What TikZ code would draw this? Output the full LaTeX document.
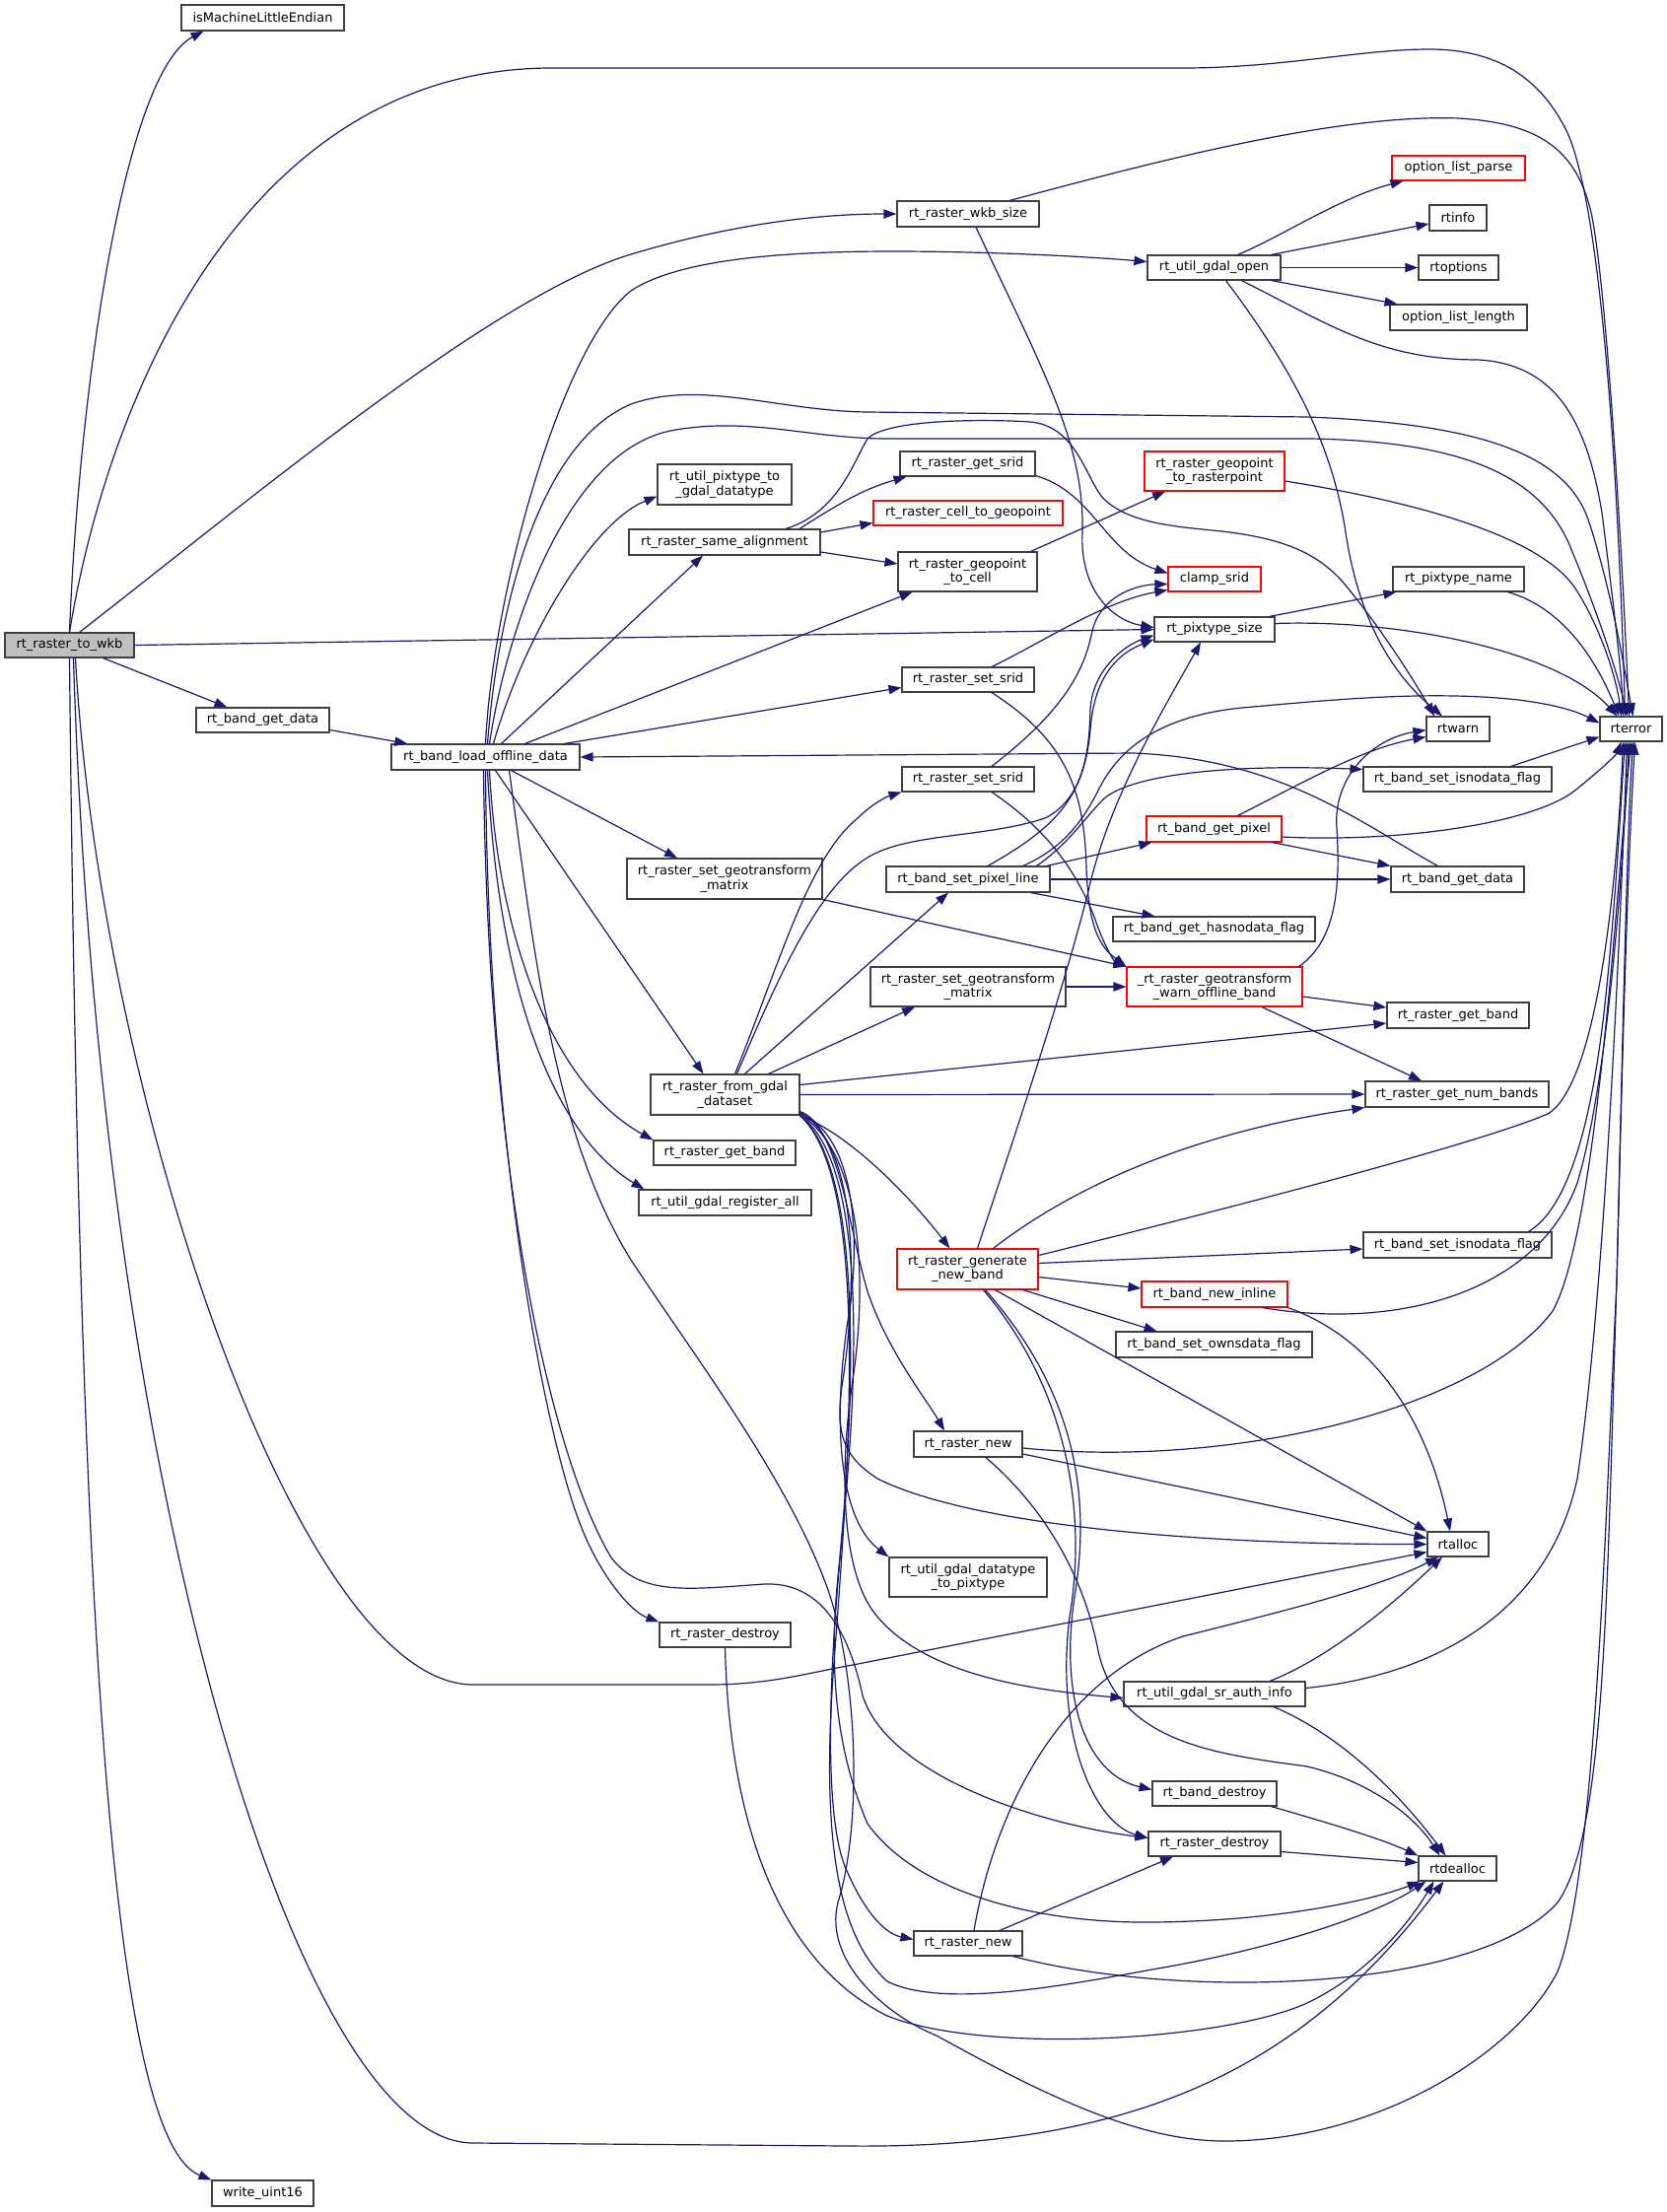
\documentclass[tikz,border=0pt]{standalone}
\usepackage{fontspec}
\setmainfont{DejaVu Sans}
\usetikzlibrary{arrows.meta}
\definecolor{edgec}{HTML}{191970}
\definecolor{nodeb}{HTML}{404040}
\definecolor{rootf}{HTML}{BFBFBF}
\begin{document}
\begin{tikzpicture}[x=0.5pt,y=-0.5pt,
  nb/.style={draw=nodeb,fill=white,line width=0.55pt,inner sep=0pt,text=black,
    font=\fontsize{6.5pt}{7.4pt}\selectfont,align=center},
  rn/.style={draw=red},
  e/.style={draw=edgec,line width=0.6pt,-{Triangle[length=6.5pt,width=4.6pt]}}]
\fill[white] (0,0) rectangle (1691,2244);
\useasboundingbox (0,0) rectangle (1691,2244);

% ---------------- nodes ----------------
\node[nb,fill=rootf,minimum width=65.5pt,minimum height=12.5pt] (root) at (70.5,654.5) {rt\_raster\_to\_wkb};
\node[nb,minimum width=82.5pt,minimum height=13pt] (isML) at (266.5,18) {isMachineLittleEndian};
\node[nb,minimum width=72pt,minimum height=13pt] (wkbsize) at (982,217) {rt\_raster\_wkb\_size};
\node[nb,minimum width=67.5pt,minimum height=12.5pt] (gdalopen) at (1231.5,271.5) {rt\_util\_gdal\_open};
\node[nb,rn,minimum width=67.5pt,minimum height=12.5pt] (olparse) at (1479.5,170.5) {option\_list\_parse};
\node[nb,minimum width=29pt,minimum height=13pt] (rtinfo) at (1479,221) {rtinfo};
\node[nb,minimum width=40.5pt,minimum height=12.5pt] (rtoptions) at (1479.5,271.5) {rtoptions};
\node[nb,minimum width=69.5pt,minimum height=13pt] (ollength) at (1479.5,322) {option\_list\_length};
\node[nb,minimum width=31.5pt,minimum height=12.5pt] (rterror) at (1654.5,739.5) {rterror};
\node[nb,minimum width=68pt,minimum height=20.5pt] (pix2gdal) at (735,491.5) {rt\_util\_pixtype\_to\\\_gdal\_datatype};
\node[nb,minimum width=97pt,minimum height=13pt] (samealign) at (735,550) {rt\_raster\_same\_alignment};
\node[nb,minimum width=68.5pt,minimum height=12.5pt] (getsrid) at (981.5,470.5) {rt\_raster\_get\_srid};
\node[nb,rn,minimum width=96pt,minimum height=12.5pt] (cell2geo) at (982,520.5) {rt\_raster\_cell\_to\_geopoint};
\node[nb,minimum width=70.5pt,minimum height=20pt] (geo2cell) at (981.5,580) {rt\_raster\_geopoint\\\_to\_cell};
\node[nb,rn,minimum width=71pt,minimum height=20pt] (geo2raster) at (1232,478) {rt\_raster\_geopoint\\\_to\_rasterpoint};
\node[nb,rn,minimum width=47pt,minimum height=12.5pt] (clampsrid) at (1232,587.5) {clamp\_srid};
\node[nb,minimum width=61pt,minimum height=12.5pt] (pixsize) at (1232,638.5) {rt\_pixtype\_size};
\node[nb,minimum width=66.5pt,minimum height=12.5pt] (pixname) at (1479.5,587.5) {rt\_pixtype\_name};
\node[nb,minimum width=67pt,minimum height=12.5pt] (setsrid1) at (982,689.5) {rt\_raster\_set\_srid};
\node[nb,minimum width=32pt,minimum height=12.5pt] (rtwarn) at (1479,739.5) {rtwarn};
\node[nb,minimum width=67.5pt,minimum height=12.5pt] (bgetdata1) at (266.5,730.5) {rt\_band\_get\_data};
\node[nb,minimum width=95.5pt,minimum height=13pt] (loadoff) at (492.5,768) {rt\_band\_load\_offline\_data};
\node[nb,minimum width=67pt,minimum height=12.5pt] (setsrid2) at (982,790.5) {rt\_raster\_set\_srid};
\node[nb,minimum width=95.5pt,minimum height=12.5pt] (bisnodata1) at (1478.5,790.5) {rt\_band\_set\_isnodata\_flag};
\node[nb,minimum width=83pt,minimum height=13pt] (setpixline) at (982,892) {rt\_band\_set\_pixel\_line};
\node[nb,rn,minimum width=68.5pt,minimum height=13pt] (bgetpixel) at (1231.5,841) {rt\_band\_get\_pixel};
\node[nb,minimum width=67.5pt,minimum height=13pt] (bgetdata2) at (1478.5,892) {rt\_band\_get\_data};
\node[nb,minimum width=99pt,minimum height=20.5pt] (setgeo1) at (735,891.5) {rt\_raster\_set\_geotransform\\\_matrix};
\node[nb,minimum width=102.5pt,minimum height=12.5pt] (hasnodata) at (1231.5,942.5) {rt\_band\_get\_hasnodata\_flag};
\node[nb,minimum width=99pt,minimum height=20pt] (setgeo2) at (982,1001) {rt\_raster\_set\_geotransform\\\_matrix};
\node[nb,rn,minimum width=89pt,minimum height=20pt] (warnoff) at (1232,1001) {\_rt\_raster\_geotransform\\\_warn\_offline\_band};
\node[nb,minimum width=72pt,minimum height=13pt] (getband2) at (1479,1030) {rt\_raster\_get\_band};
\node[nb,minimum width=75.5pt,minimum height=20.5pt] (fromgdal) at (735.5,1110.5) {rt\_raster\_from\_gdal\\\_dataset};
\node[nb,minimum width=93pt,minimum height=13pt] (numbands) at (1478,1110) {rt\_raster\_get\_num\_bands};
\node[nb,minimum width=72pt,minimum height=12.5pt] (getband1) at (735,1169.5) {rt\_raster\_get\_band};
\node[nb,minimum width=87.5pt,minimum height=13pt] (regall) at (735.5,1220) {rt\_util\_gdal\_register\_all};
\node[nb,rn,minimum width=71.5pt,minimum height=20.5pt] (genband) at (981.5,1287.5) {rt\_raster\_generate\\\_new\_band};
\node[nb,minimum width=95.5pt,minimum height=13pt] (bisnodata2) at (1478.5,1263) {rt\_band\_set\_isnodata\_flag};
\node[nb,rn,minimum width=74pt,minimum height=13pt] (newinline) at (1232,1313) {rt\_band\_new\_inline};
\node[nb,minimum width=99.5pt,minimum height=13pt] (ownsdata) at (1231.5,1364) {rt\_band\_set\_ownsdata\_flag};
\node[nb,minimum width=55pt,minimum height=13pt] (rasternew1) at (982,1465) {rt\_raster\_new};
\node[nb,minimum width=31pt,minimum height=12.5pt] (rtalloc) at (1479,1566.5) {rtalloc};
\node[nb,minimum width=80pt,minimum height=20pt] (dt2pix) at (982,1600) {rt\_util\_gdal\_datatype\\\_to\_pixtype};
\node[nb,minimum width=66.5pt,minimum height=12.5pt] (destroy1) at (735.5,1658.5) {rt\_raster\_destroy};
\node[nb,minimum width=92pt,minimum height=12.5pt] (srauth) at (1232,1718.5) {rt\_util\_gdal\_sr\_auth\_info};
\node[nb,minimum width=63pt,minimum height=12.5pt] (banddestroy) at (1232,1819.5) {rt\_band\_destroy};
\node[nb,minimum width=67pt,minimum height=12.5pt] (destroy2) at (1232,1870.5) {rt\_raster\_destroy};
\node[nb,minimum width=39.5pt,minimum height=12.5pt] (rtdealloc) at (1478.5,1895.5) {rtdealloc};
\node[nb,minimum width=55pt,minimum height=12.5pt] (rasternew2) at (982,1971.5) {rt\_raster\_new};
\node[nb,minimum width=51.5pt,minimum height=13pt] (writeu16) at (266.5,2225) {write\_uint16};

% ---------------- edges ----------------
% rt_raster_to_wkb
\draw[e] (root.north) .. controls (80,400) and (125,75) .. ([xshift=-30pt]isML.south);
\draw[e] (root.north) .. controls (110,400) and (250,69) .. (560,69) -- (1200,69) .. controls (1300,69) and (1380,50) .. (1450,50) .. controls (1520,50) and (1560,80) .. (1585,125) .. controls (1625,190) and (1642,500) .. ([xshift=-3pt]rterror.north);
\draw[e] ([xshift=5pt]root.north) .. controls (250,510) and (500,300) .. (640,258) .. controls (760,222) and (850,217) .. (wkbsize.west);
\draw[e] (root.east) -- (pixsize.west);
\draw[e] ([xshift=17pt]root.south) -- ([xshift=-18pt]bgetdata1.north);
\draw[e] ([xshift=3pt]root.south) .. controls (100,1100) and (300,1709) .. (480,1709) -- (720,1709) .. controls (780,1709) and (820,1697) .. (860,1690) -- ([yshift=-4pt]rtalloc.west);
\draw[e] ([xshift=2pt]root.south) .. controls (100,1500) and (300,2174) .. (480,2174) -- (860,2177) .. controls (1150,2180) and (1320,2100) .. ([xshift=-7pt]rtdealloc.south);
\draw[e] (root.south) .. controls (80,1600) and (110,2170) .. (writeu16.north west);

% rt_raster_wkb_size
\draw[e] ([xshift=21pt]wkbsize.north) .. controls (1150,170) and (1350,115) .. (1480,120) .. controls (1560,125) and (1600,150) .. (1615,220) .. controls (1630,300) and (1645,550) .. ([xshift=-1pt]rterror.north);
\draw[e] ([xshift=4pt]wkbsize.south) .. controls (1060,380) and (1100,450) .. (1098,540) .. controls (1095,600) and (1130,630) .. ([yshift=1pt]pixsize.west);

% rt_util_gdal_open
\draw[e] ([xshift=12pt]gdalopen.north) .. controls (1300,240) and (1360,200) .. ([xshift=-28pt]olparse.south);
\draw[e] ([xshift=-5pt]gdalopen.north east) -- ([yshift=-3pt]rtinfo.west);
\draw[e] (gdalopen.east) -- (rtoptions.west);
\draw[e] ([xshift=-5pt]gdalopen.south east) -- ([xshift=-31pt]ollength.north);
\draw[e] ([xshift=14pt]gdalopen.south) .. controls (1350,330) and (1400,365) .. (1500,365) .. controls (1580,370) and (1610,430) .. (1625,520) .. controls (1635,600) and (1645,680) .. ([xshift=-4pt]rterror.north);
\draw[e] ([xshift=6pt]gdalopen.south) .. controls (1300,360) and (1350,440) .. (1365,540) .. controls (1380,640) and (1420,690) .. ([xshift=-8pt]rtwarn.north);

% rt_band_get_data (left)
\draw[e] ([yshift=-5pt]bgetdata1.east) -- ([xshift=8.5pt]loadoff.north west);

% rt_band_load_offline_data
\draw[e] (loadoff.north) .. controls (500,600) and (570,350) .. (640,295) .. controls (690,262) and (800,255) .. (906,255) .. controls (1000,255) and (1100,260) .. ([yshift=3pt]gdalopen.west);
\draw[e] ([xshift=1pt]loadoff.north) .. controls (505,620) and (545,450) .. (640,410) .. controls (710,385) and (790,417) .. (880,418) -- (1327,423) .. controls (1500,430) and (1590,460) .. (1612,530) .. controls (1635,600) and (1648,680) .. ([xshift=1pt]rterror.north);
\draw[e] ([xshift=2pt]loadoff.north) .. controls (512,650) and (570,460) .. (680,437) .. controls (760,422) and (820,445) .. (900,445) -- (1330,445) .. controls (1480,448) and (1565,480) .. (1595,560) .. controls (1620,620) and (1640,680) .. ([xshift=-2pt]rterror.north);
\draw[e] ([xshift=4pt]loadoff.north) .. controls (530,650) and (600,530) .. ([yshift=-6pt]pix2gdal.west);
\draw[e] ([xshift=8pt]loadoff.north) -- ([xshift=-11pt]samealign.south);
\draw[e] ([xshift=20pt]loadoff.north) -- ([xshift=-28pt]geo2cell.south);
\draw[e] ([xshift=-8pt]loadoff.north east) -- ([yshift=-4pt]setsrid1.west);
\draw[e] ([xshift=13pt]loadoff.south) -- ([xshift=-24pt]setgeo1.north);
\draw[e] ([xshift=5pt]loadoff.south) -- ([xshift=-11pt]fromgdal.north);
\draw[e] ([xshift=2pt]loadoff.south) .. controls (505,950) and (560,1100) .. (getband1.north west);
\draw[e] ([xshift=1pt]loadoff.south) .. controls (505,1000) and (560,1150) .. ([xshift=3pt]regall.north west);
\draw[e] (loadoff.south) .. controls (495,1150) and (550,1450) .. (590,1550) .. controls (610,1600) and (640,1635) .. (destroy1.north west);
\draw[e] ([xshift=-1pt]loadoff.south) .. controls (495,1200) and (560,1480) .. (620,1580) .. controls (650,1620) and (700,1612) .. (776,1607) .. controls (830,1605) and (860,1650) .. (875,1720) .. controls (900,1800) and (1050,1850) .. ([yshift=3pt]destroy2.west);
\draw[e] ([xshift=12pt]loadoff.south) .. controls (540,950) and (560,1150) .. (640,1278) .. controls (700,1370) and (800,1500) .. (840,1613) .. controls (870,1700) and (875,1850) .. (850,1930) .. controls (835,1990) and (900,2045) .. (950,2065) .. controls (1050,2120) and (1150,2172) .. (1242,2172) .. controls (1400,2172) and (1540,2080) .. (1580,2000) .. controls (1620,1900) and (1630,1500) .. (1640,1300) .. controls (1645,1100) and (1650,900) .. ([xshift=2pt]rterror.south);

% rt_raster_same_alignment
\draw[e] ([xshift=38pt]samealign.north) .. controls (860,505) and (880,495) .. ([xshift=-31pt]getsrid.south);
\draw[e] ([yshift=5pt]samealign.east) -- ([yshift=-5pt]cell2geo.west);
\draw[e] ([yshift=-5pt]samealign.east) -- ([yshift=4pt]geo2cell.west);
\draw[e] ([xshift=31pt]samealign.north) .. controls (850,520) and (865,470) .. (880,445) .. controls (900,425) and (1000,425) .. (1045,428) .. controls (1090,432) and (1100,480) .. (1117,503) .. controls (1140,530) and (1190,534) .. (1230,538) .. controls (1300,545) and (1340,560) .. (1370,600) .. controls (1410,650) and (1440,700) .. ([xshift=-12pt]rtwarn.north);

% srid / geopoint
\draw[e] ([yshift=-6pt]getsrid.east) .. controls (1110,500) and (1120,560) .. ([yshift=3pt]clampsrid.west);
\draw[e] ([xshift=32pt]geo2cell.north) -- ([xshift=-25pt]geo2raster.south);
\draw[e] ([yshift=-5pt]geo2raster.east) .. controls (1460,513) and (1570,550) .. (1600,600) .. controls (1625,640) and (1640,690) .. ([xshift=-5pt]rterror.north);

% rt_pixtype_size / name
\draw[e] ([xshift=-3pt]pixsize.north east) -- ([xshift=2pt]pixname.south west);
\draw[e] ([yshift=3pt]pixsize.east) .. controls (1420,628) and (1580,660) .. ([xshift=-7pt]rterror.north);
\draw[e] ([xshift=25pt]pixname.south) .. controls (1580,615) and (1615,660) .. ([xshift=-6pt]rterror.north);

% rt_raster_set_srid (1) and (2)
\draw[e] ([xshift=12pt]setsrid1.north) .. controls (1060,650) and (1120,610) .. ([yshift=-5.5pt]clampsrid.west);
\draw[e] ([xshift=12pt]setsrid1.south) .. controls (1080,750) and (1100,800) .. (1102,880) .. controls (1104,940) and (1115,960) .. (warnoff.north west);
\draw[e] ([xshift=12pt]setsrid2.north) .. controls (1080,720) and (1100,680) .. (1108,640) .. controls (1118,600) and (1160,593) .. ([yshift=-2.5pt]clampsrid.west);
\draw[e] ([xshift=12pt]setsrid2.south) .. controls (1060,840) and (1090,880) .. (1110,930) .. controls (1120,960) and (1130,975) .. (warnoff.north west);

% rt_band_set_pixel_line
\draw[e] ([xshift=-2pt]setpixline.north east) -- ([xshift=3pt]bgetpixel.south west);
\draw[e] (setpixline.east) -- (bgetdata2.west);
\draw[e] ([xshift=-10pt]setpixline.south east) -- ([xshift=-30pt]hasnodata.north);
\draw[e] ([xshift=-14pt]setpixline.north east) .. controls (1080,860) and (1100,830) .. (1115,800) .. controls (1140,750) and (1190,725) .. (1260,718) .. controls (1350,710) and (1450,700) .. (1540,710) .. controls (1580,715) and (1600,722) .. ([yshift=3pt]rterror.west);
\draw[e] ([xshift=-7pt]setpixline.north east) .. controls (1085,855) and (1100,830) .. (1120,810) .. controls (1150,785) and (1250,775) .. ([yshift=5pt]bisnodata1.west);
\draw[e] ([xshift=10pt]setpixline.north) .. controls (1070,840) and (1100,810) .. (1106,740) .. controls (1110,690) and (1130,665) .. ([yshift=-5pt]pixsize.west);

% rt_band_get_pixel
\draw[e] ([xshift=12pt]bgetpixel.north) .. controls (1320,795) and (1380,760) .. ([yshift=-4pt]rtwarn.west);
\draw[e] ([yshift=-4pt]bgetpixel.east) .. controls (1420,855) and (1560,835) .. (1600,800) .. controls (1625,780) and (1640,765) .. ([xshift=-5pt]rterror.south);
\draw[e] ([xshift=-5pt]bgetpixel.south east) -- (bgetdata2.north west);

% rt_band_get_data (right) back to load_offline
\draw[e] ([xshift=-10pt]bgetdata2.north) .. controls (1380,835) and (1300,770) .. (1150,764) -- (loadoff.east);

% rt_band_set_isnodata_flag (1)
\draw[e] ([xshift=27pt]bisnodata1.north) -- ([yshift=-4pt]rterror.west);

% set_geotransform_matrix
\draw[e] (setgeo1.south east) -- (warnoff.north west);
\draw[e] (setgeo2.east) -- (warnoff.west);

% _rt_raster_geotransform_warn_offline_band
\draw[e] ([xshift=-2pt]warnoff.north east) .. controls (1355,955) and (1360,900) .. (1356,840) .. controls (1352,790) and (1390,750) .. ([yshift=-0.5pt]rtwarn.west);
\draw[e] ([yshift=-5pt]warnoff.east) -- ([yshift=4pt]getband2.west);
\draw[e] ([xshift=24pt]warnoff.south) -- ([xshift=-18pt]numbands.north);

% rt_raster_from_gdal_dataset
\draw[e] ([xshift=22pt]fromgdal.north) -- ([xshift=-27pt]setgeo2.south);
\draw[e] ([xshift=10pt]fromgdal.north) -- ([xshift=-10pt]setpixline.south);
\draw[e] ([xshift=5pt]fromgdal.north) .. controls (790,980) and (820,870) .. (870,830) .. controls (885,815) and (900,808) .. (setsrid2.south west);
\draw[e] ([xshift=6pt]fromgdal.north) .. controls (790,990) and (830,900) .. (880,870) .. controls (920,845) and (1000,850) .. (1060,830) .. controls (1100,810) and (1105,760) .. (1106,720) .. controls (1108,680) and (1140,655) .. ([yshift=-3pt]pixsize.west);
\draw[e] ([yshift=5pt]fromgdal.east) -- ([yshift=-4pt]getband2.west);
\draw[e] (fromgdal.east) -- (numbands.west);
\draw[e] (fromgdal.south east) .. controls (860,1150) and (920,1210) .. ([xshift=-9pt]genband.north);
\draw[e] ([yshift=2pt]fromgdal.south east) .. controls (850,1140) and (862,1250) .. (880,1310) .. controls (900,1370) and (940,1420) .. ([xshift=-12pt]rasternew1.north);
\draw[e] ([yshift=1pt]fromgdal.south east) .. controls (865,1150) and (875,1250) .. (860,1340) .. controls (845,1440) and (850,1540) .. (dt2pix.north west);
\draw[e] ([yshift=1.5pt]fromgdal.south east) .. controls (870,1160) and (870,1300) .. (855,1400) .. controls (845,1460) and (860,1480) .. (890,1500) .. controls (980,1545) and (1200,1567) .. (rtalloc.west);
\draw[e] ([yshift=0.5pt]fromgdal.south east) .. controls (875,1170) and (880,1300) .. (865,1400) .. controls (850,1500) and (855,1600) .. (890,1640) .. controls (940,1700) and (1050,1715) .. ([yshift=-2pt]srauth.west);
\draw[e] (fromgdal.south east) .. controls (880,1180) and (870,1400) .. (855,1550) .. controls (840,1700) and (835,1850) .. (860,1900) .. controls (880,1945) and (900,1962) .. ([yshift=2pt]rasternew2.west);
\draw[e] (fromgdal.south east) .. controls (880,1190) and (865,1450) .. (850,1600) .. controls (840,1700) and (850,1780) .. (880,1850) .. controls (930,1920) and (1050,1950) .. (1160,1950) .. controls (1300,1950) and (1400,1925) .. ([xshift=1pt]rtdealloc.south west);
\draw[e] (fromgdal.south east) .. controls (885,1200) and (860,1500) .. (845,1700) .. controls (835,1850) and (845,1960) .. (900,2010) .. controls (960,2040) and (1100,2010) .. (1180,1996) .. controls (1300,1975) and (1400,1940) .. ([xshift=4pt]rtdealloc.south west);

% rt_raster_generate_new_band
\draw[e] ([xshift=5pt]genband.north) .. controls (1030,1150) and (1080,1000) .. (1104,904) .. controls (1125,810) and (1180,720) .. ([xshift=-7pt]pixsize.south);
\draw[e] ([xshift=13pt]genband.north) .. controls (1080,1210) and (1200,1150) .. (numbands.south west);
\draw[e] ([yshift=7pt]genband.east) .. controls (1250,1225) and (1500,1160) .. (1570,1130) .. controls (1620,1100) and (1640,900) .. ([xshift=-4pt]rterror.south);
\draw[e] ([yshift=3pt]genband.east) -- ([yshift=-2pt]bisnodata2.west);
\draw[e] ([yshift=-4pt]genband.east) -- ([yshift=3pt]newinline.west);
\draw[e] ([xshift=-8pt]genband.south east) -- ([xshift=-29pt]ownsdata.north);
\draw[e] ([xshift=14pt]genband.south) -- (rtalloc.north west);
\draw[e] ([xshift=9pt]genband.south) .. controls (1080,1400) and (1110,1500) .. (1090,1620) .. controls (1075,1720) and (1100,1800) .. ([yshift=2pt]banddestroy.west);
\draw[e] ([xshift=8pt]genband.south) .. controls (1075,1400) and (1105,1520) .. (1085,1640) .. controls (1070,1760) and (1110,1850) .. ([yshift=3pt]destroy2.west);

% rt_band_new_inline
\draw[e] (newinline.south east) .. controls (1400,1360) and (1450,1450) .. ([xshift=-4pt]rtalloc.north);
\draw[e] ([xshift=-13pt]newinline.south east) .. controls (1420,1350) and (1560,1310) .. (1600,1200) .. controls (1630,1100) and (1645,900) .. ([xshift=-1pt]rterror.south);

% rt_band_set_isnodata_flag (2)
\draw[e] ([xshift=36pt]bisnodata2.north) .. controls (1600,1220) and (1620,1100) .. (1630,1000) .. controls (1640,900) and (1645,800) .. ([xshift=-3pt]rterror.south);

% rt_raster_new (1)
\draw[e] ([yshift=-5pt]rasternew1.east) -- ([yshift=3pt]rtalloc.west);
\draw[e] ([yshift=-2pt]rasternew1.east) .. controls (1250,1490) and (1500,1430) .. (1575,1330) .. controls (1620,1250) and (1640,900) .. (rterror.south);
\draw[e] ([xshift=9pt]rasternew1.south) .. controls (1060,1530) and (1100,1600) .. (1114,1675) .. controls (1135,1770) and (1240,1780) .. (1326,1792) .. controls (1400,1810) and (1440,1850) .. ([xshift=-9pt]rtdealloc.north);

% rt_util_gdal_sr_auth_info
\draw[e] ([xshift=28pt]srauth.north) .. controls (1340,1685) and (1400,1640) .. ([xshift=-8pt]rtalloc.south);
\draw[e] ([yshift=3pt]srauth.east) .. controls (1450,1700) and (1570,1640) .. (1600,1500) .. controls (1630,1300) and (1645,900) .. ([xshift=-2pt]rterror.south);
\draw[e] ([xshift=30pt]srauth.south) .. controls (1360,1760) and (1420,1820) .. ([xshift=-6pt]rtdealloc.north);

% destroy
\draw[e] ([xshift=-3pt]banddestroy.south east) .. controls (1350,1850) and (1400,1865) .. (rtdealloc.north west);
\draw[e] ([yshift=-4pt]destroy2.east) -- ([yshift=3pt]rtdealloc.west);
\draw[e] (destroy1.south) .. controls (740,1850) and (790,1990) .. (900,2045) .. controls (1000,2085) and (1250,2070) .. (1330,2030) .. controls (1390,2000) and (1430,1950) .. ([xshift=-12pt]rtdealloc.south);

% rt_raster_new (2)
\draw[e] ([xshift=3pt]rasternew2.north) .. controls (1010,1830) and (1080,1700) .. (1200,1660) .. controls (1300,1635) and (1400,1610) .. ([xshift=-10pt]rtalloc.south);
\draw[e] ([xshift=16pt]rasternew2.north) -- ([xshift=-21pt]destroy2.south);
\draw[e] ([xshift=-5pt]rasternew2.south east) .. controls (1200,2030) and (1500,2020) .. (1580,1930) .. controls (1630,1860) and (1630,1600) .. (1640,1300) .. controls (1645,1100) and (1650,850) .. ([xshift=1pt]rterror.south);
\end{tikzpicture}
\end{document}
